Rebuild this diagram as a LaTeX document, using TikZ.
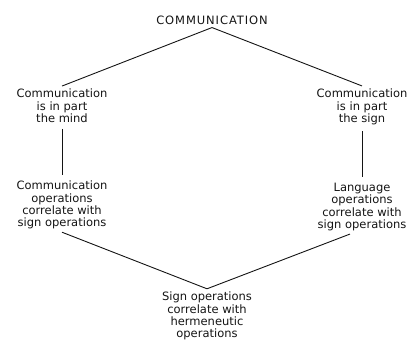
\documentclass[tikz,border=0pt]{standalone}
\usepackage{fontspec}
\setmainfont{DejaVu Sans}
\newfontfamily\capsfont[LetterSpace=8]{DejaVu Sans}
\usepackage{tikz}
\usetikzlibrary{positioning, calc}
\usepackage{xcolor}
\definecolor{inkgray}{RGB}{20,20,20}
\tikzset{
  labelbox/.style={
    align=center, inner sep=3pt, text=inkgray,
    font=\fontsize{11.5}{12.3}\selectfont
  },
  titlebox/.style={labelbox, font=\capsfont\fontsize{11.5}{12.3}\selectfont},
  link/.style={line width=0.9pt, draw=inkgray},
  vlink/.style={link, shorten <=3pt, shorten >=3pt}
}

\begin{document}
\begin{tikzpicture}[x=1pt, y=-1pt]
  \useasboundingbox (0,0) rectangle (411,341);

  \node[titlebox] (comm) at (212,20) {COMMUNICATION};
  \node[labelbox] (mind) at (62,106)
        {Communication\\is in part\\the mind};
  \node[labelbox] (sign) at (362,107)
        {Communication\\is in part\\the sign};
  \node[labelbox] (commops) at (62,205)
        {Communication\\operations\\correlate with\\sign operations};
  \node[labelbox] (langops) at (362,207)
        {Language\\operations\\correlate with\\sign operations};
  \node[labelbox] (hermops) at (207,316)
        {Sign operations\\correlate with\\hermeneutic\\operations};

  \draw[link] (comm.south)--(mind.north);
  \draw[link] (comm.south)--(sign.north);
  \draw[vlink] (mind)--(commops);
  \draw[vlink] (sign)--(langops);
  \draw[link] (commops.south)--(hermops.north);
  \draw[link] ([xshift=-12pt]langops.south)--(hermops.north);
\end{tikzpicture}
\end{document}
